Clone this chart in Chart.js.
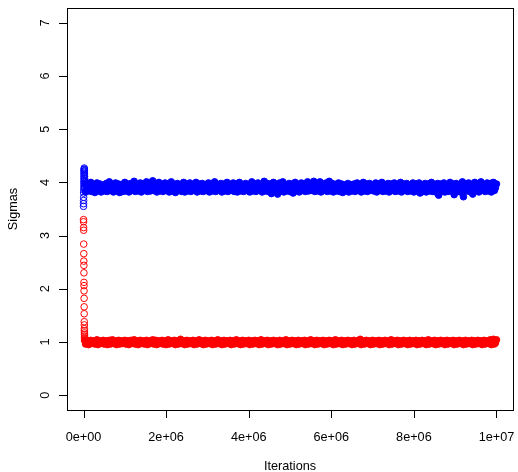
<!DOCTYPE html>
<html><head><meta charset="utf-8">
<script src="https://cdn.jsdelivr.net/npm/chart.js@4.4.0/dist/chart.umd.min.js"></script>
<style>html,body{margin:0;padding:0;background:#fff}canvas{display:block}</style>
</head><body>
<canvas id="c" width="518" height="472"></canvas>
<script>
const xTicks = [0, 2e6, 4e6, 6e6, 8e6, 1e7];
const xTickLabels = ["0e+00", "2e+06", "4e+06", "6e+06", "8e+06", "1e+07"];
const yTicks = [0, 1, 2, 3, 4, 5, 6, 7];
const yTickLabels = ["0", "1", "2", "3", "4", "5", "6", "7"];
const xTitle = "Iterations";
const yTitle = "Sigmas";

// burn-in samples near iteration 0
const burnIter = [0,1200,2400,3600,4800,6000,7200,8400,9600,10800,12000,13200,14400,15600,16800,18000,19200,20400,21600,22800,24000,25200,26400,27600,28800];
const burnRed  = [3.30,3.26,3.15,3.10,2.84,2.66,2.52,2.44,2.30,2.12,2.06,1.96,1.82,1.66,1.53,1.38,1.32,1.25,1.21,1.17,1.14,1.11,1.08,1.06,1.04];
const burnBlue = [3.55,3.60,3.66,3.72,3.80,3.86,3.92,3.98,4.03,4.08,4.13,4.17,4.21,4.24,4.27,4.25,4.22,4.19,4.15,4.11,4.07,4.02,3.97,3.93,3.89];

// thinned chain, one sample every thinStep iterations
const thinStep = 25000;
const redValues = [
1.03,0.96,0.99,1.02,0.95,1.00,1.03,0.97,0.99,1.02,0.96,0.98,1.04,0.95,1.00,1.02,0.97,0.99,1.03,0.96,
0.99,1.02,0.95,1.00,1.03,0.96,0.98,1.04,0.97,0.99,1.02,0.95,1.00,1.03,0.96,0.99,1.02,0.97,0.98,1.03,
0.96,1.00,1.02,0.95,0.99,1.03,0.97,0.98,1.04,0.96,1.00,1.02,0.95,0.99,1.03,0.97,0.98,1.02,0.96,1.00,
1.03,0.95,0.99,1.02,0.97,1.00,1.04,0.96,0.98,1.03,0.95,0.99,1.02,0.97,1.00,1.03,0.96,0.98,1.02,0.95,
0.99,1.04,0.96,1.00,1.02,0.97,0.98,1.03,0.95,0.99,1.02,0.96,1.00,1.05,0.97,0.98,1.02,0.95,0.99,1.03,
0.96,1.00,1.02,0.97,0.99,1.03,0.95,0.98,1.02,0.96,1.00,1.04,0.97,0.99,1.02,0.95,0.98,1.03,0.96,1.00,
1.02,0.97,0.99,1.03,0.95,1.00,1.02,0.96,0.98,1.04,0.97,0.99,1.02,0.95,1.00,1.03,0.96,0.98,1.02,0.97,
0.99,1.03,0.95,1.00,1.02,0.96,0.99,1.04,0.97,0.98,1.02,0.95,1.00,1.03,0.96,0.99,1.02,0.97,0.98,1.03,
0.95,1.00,1.02,0.96,0.99,1.03,0.97,0.98,1.02,0.95,1.00,1.04,0.96,0.99,1.02,0.97,0.98,1.03,0.95,1.00,
1.02,0.96,0.99,1.03,0.97,1.00,1.02,0.95,0.98,1.03,0.96,0.99,1.02,0.97,1.00,1.04,0.95,0.98,1.02,0.96,
0.99,1.03,0.97,1.00,1.02,0.95,0.99,1.03,0.96,0.98,1.02,0.97,1.00,1.03,0.95,0.99,1.02,0.96,0.98,1.04,
0.97,1.00,1.02,0.95,0.99,1.03,0.96,0.98,1.02,0.97,1.00,1.03,0.95,0.99,1.02,0.96,0.98,1.03,0.97,1.00,
1.02,0.95,0.99,1.04,0.96,1.00,1.02,0.97,0.98,1.03,0.95,0.99,1.02,0.96,1.00,1.03,0.97,0.98,1.02,0.95,
0.99,1.03,0.96,1.00,1.02,0.97,0.99,1.05,0.95,0.98,1.02,0.96,1.00,1.03,0.97,0.99,1.02,0.95,0.98,1.03,
0.96,1.00,1.02,0.97,0.99,1.03,0.95,0.98,1.02,0.96,1.00,1.03,0.97,0.99,1.02,0.95,0.98,1.04,0.96,1.00,
1.02,0.97,0.99,1.03,0.95,1.00,1.02,0.96,0.98,1.03,0.97,0.99,1.02,0.95,1.00,1.03,0.96,0.98,1.02,0.97,
0.99,1.03,0.95,1.00,1.02,0.96,0.99,1.03,0.97,0.98,1.02,0.95,1.00,1.04,0.96,0.99,1.02,0.97,0.98,1.03,
0.95,1.00,1.02,0.96,0.99,1.03,0.97,0.98,1.02,0.95,1.00,1.03,0.96,0.99,1.02,0.97,0.98,1.03,0.95,1.00,
1.02,0.96,0.99,1.03,0.97,1.00,1.02,0.95,0.98,1.03,0.96,0.99,1.02,0.97,1.00,1.03,0.95,0.98,1.02,0.96,
0.99,1.03,0.97,1.00,1.02,0.95,0.99,1.03,0.96,0.98,1.02,0.97,1.00,1.04,0.95,0.99,1.05,0.96,0.98,1.04
];
const blueValues = [
3.98,3.82,3.90,3.96,3.84,3.89,4.00,3.83,3.91,3.95,3.81,3.88,3.99,3.85,3.92,3.97,3.82,3.89,3.94,3.84,
3.90,3.98,3.83,3.88,4.01,3.85,3.91,3.96,3.82,3.89,3.99,3.84,3.92,3.97,3.81,3.90,3.95,3.83,3.88,4.00,
3.84,3.91,3.97,3.82,3.89,3.98,3.85,3.90,4.02,3.83,3.92,3.96,3.84,3.88,3.99,3.82,3.91,3.97,3.85,3.89,
4.01,3.83,3.90,3.98,3.84,3.92,4.03,3.85,3.89,3.97,3.82,3.91,4.00,3.84,3.90,3.96,3.83,3.88,3.99,3.85,
3.92,3.97,3.82,3.89,4.01,3.84,3.91,3.96,3.81,3.90,3.98,3.85,3.88,3.95,3.83,3.91,4.00,3.82,3.89,3.97,
3.84,3.90,3.99,3.83,3.92,3.96,3.85,3.88,4.00,3.82,3.91,3.97,3.84,3.89,3.98,3.83,3.90,3.95,3.85,3.92,
3.99,3.82,3.89,3.97,3.84,3.91,4.01,3.83,3.90,3.96,3.85,3.88,3.98,3.82,3.92,3.97,3.84,3.89,4.00,3.83,
3.91,3.96,3.85,3.90,3.99,3.83,3.88,3.97,3.82,3.91,4.00,3.84,3.89,3.95,3.83,3.92,3.98,3.85,3.90,3.96,
3.82,3.89,4.01,3.84,3.91,3.97,3.83,3.90,3.99,3.85,3.88,3.96,3.82,3.91,4.02,3.84,3.89,3.98,3.83,3.92,
3.97,3.79,3.88,4.00,3.84,3.90,3.96,3.78,3.89,3.99,3.83,3.91,4.01,3.82,3.88,3.95,3.84,3.90,3.98,3.83,
3.91,3.97,3.80,3.89,4.00,3.84,3.92,3.96,3.82,3.90,3.99,3.85,3.88,3.97,3.83,3.91,4.01,3.84,3.89,3.96,
3.85,3.90,4.02,3.83,3.91,3.98,3.84,3.89,4.01,3.82,3.92,3.97,3.85,3.90,3.99,3.83,3.88,4.02,3.84,3.91,
3.98,3.82,3.90,3.96,3.84,3.89,3.99,3.83,3.91,3.97,3.81,3.88,3.95,3.85,3.90,3.98,3.82,3.89,3.96,3.84,
3.92,3.97,3.83,3.90,3.99,3.85,3.88,3.96,3.82,3.91,4.00,3.84,3.89,3.97,3.83,3.92,3.98,3.85,3.90,3.95,
3.84,3.91,3.99,3.82,3.89,3.97,3.85,3.90,4.00,3.83,3.92,3.96,3.84,3.88,3.98,3.82,3.91,3.97,3.85,3.89,
3.99,3.83,3.90,3.96,3.84,3.92,4.00,3.82,3.89,3.97,3.85,3.91,3.98,3.83,3.90,3.95,3.84,3.88,3.99,3.82,
3.91,3.97,3.84,3.89,3.99,3.80,3.90,3.96,3.83,3.92,3.98,3.82,3.88,3.97,3.84,3.91,4.00,3.83,3.89,3.96,
3.82,3.90,3.98,3.76,3.89,3.97,3.84,3.91,3.99,3.82,3.88,3.95,3.83,3.90,4.00,3.84,3.91,3.97,3.77,3.89,
3.98,3.84,3.90,3.96,3.82,3.91,4.01,3.73,3.89,3.97,3.84,3.90,3.99,3.83,3.88,3.96,3.78,3.91,4.00,3.84,
3.90,3.97,3.82,3.89,4.01,3.85,3.91,3.96,3.83,3.90,3.99,3.84,3.88,3.98,3.82,3.92,4.00,3.85,3.90,3.97
];

const RED = "#ff0000", BLUE = "#0000ff";
const FONT = "12.7px 'Liberation Sans', Arial, Helvetica, sans-serif";

const toPts = (xs, ys) => ys.map((v, i) => ({x: xs[i], y: v}));
const chainIter = v => v.map((_, i) => (i + 1) * thinStep);

const rFrame = {
  id: 'rFrame',
  afterDraw(chart) {
    const {ctx, chartArea: a, scales: {x, y}} = chart;
    ctx.save();
    ctx.strokeStyle = '#000';
    ctx.lineWidth = 1;
    ctx.strokeRect(Math.round(a.left) + 0.5, Math.round(a.top) + 0.5,
                   Math.round(a.right - a.left), Math.round(a.bottom - a.top));
    ctx.fillStyle = '#000';
    ctx.font = FONT;
    ctx.beginPath();
    xTicks.forEach(v => {
      const px = Math.round(x.getPixelForValue(v)) + 0.5;
      ctx.moveTo(px, a.bottom); ctx.lineTo(px, a.bottom + 8);
    });
    yTicks.forEach(v => {
      const py = Math.round(y.getPixelForValue(v)) + 0.5;
      ctx.moveTo(a.left, py); ctx.lineTo(a.left - 8, py);
    });
    ctx.stroke();
    ctx.textAlign = 'center';
    ctx.textBaseline = 'alphabetic';
    xTicks.forEach((v, i) => {
      ctx.fillText(xTickLabels[i], x.getPixelForValue(v), 441);
    });
    ctx.fillText(xTitle, (a.left + a.right) / 2, 470);
    yTicks.forEach((v, i) => {
      ctx.save();
      ctx.translate(48.5, y.getPixelForValue(v));
      ctx.rotate(-Math.PI / 2);
      ctx.fillText(yTickLabels[i], 0, 0);
      ctx.restore();
    });
    ctx.save();
    ctx.translate(17, (a.top + a.bottom) / 2);
    ctx.rotate(-Math.PI / 2);
    ctx.fillText(yTitle, 0, 0);
    ctx.restore();
    ctx.restore();
  }
};

const openPt = c => ({pointRadius: 3.3, pointBorderWidth: 1, pointBorderColor: c, pointBackgroundColor: 'rgba(0,0,0,0)', showLine: false});
const fillPt = c => ({pointRadius: 3.3, pointBorderWidth: 1, pointBorderColor: c, pointBackgroundColor: c, showLine: false});

new Chart(document.getElementById('c'), {
  type: 'scatter',
  data: {
    datasets: [
      Object.assign({label: 'sigma2 burn', data: toPts(burnIter, burnBlue)}, openPt(BLUE)),
      Object.assign({label: 'sigma2', data: toPts(chainIter(blueValues), blueValues)}, fillPt(BLUE)),
      Object.assign({label: 'sigma1 burn', data: toPts(burnIter, burnRed)}, openPt(RED)),
      Object.assign({label: 'sigma1', data: toPts(chainIter(redValues), redValues)}, fillPt(RED))
    ]
  },
  options: {
    responsive: false,
    animation: false,
    events: [],
    devicePixelRatio: 1,
    layout: {padding: {left: 0, right: 2, top: 8, bottom: 0}},
    plugins: {legend: {display: false}, tooltip: {enabled: false}},
    scales: {
      x: {
        type: 'linear', min: -4e5, max: 1.04e7,
        grid: {display: false}, border: {display: false},
        ticks: {display: false},
        afterFit(s) { s.height = 62; }
      },
      y: {
        type: 'linear', min: -0.28, max: 7.28,
        grid: {display: false}, border: {display: false},
        ticks: {display: false},
        afterFit(s) { s.width = 67; }
      }
    }
  },
  plugins: [rFrame]
});
</script>
</body></html>
